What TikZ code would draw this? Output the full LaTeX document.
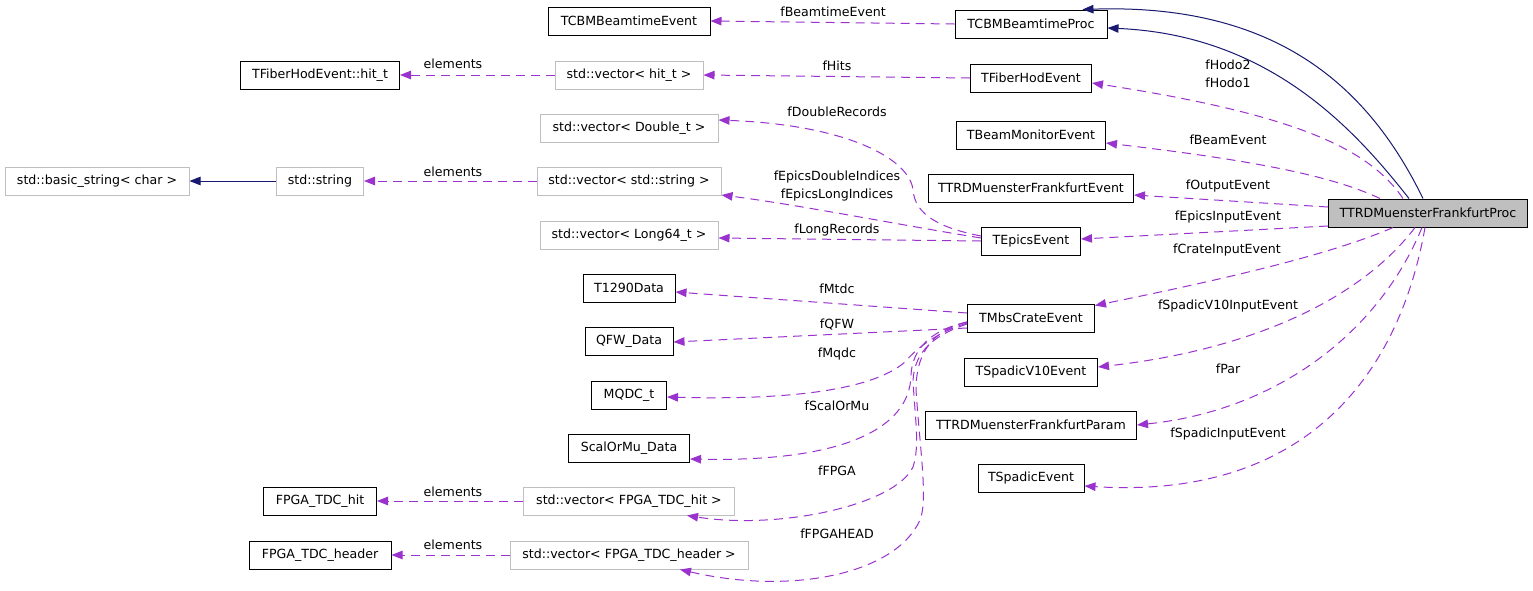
\documentclass[tikz,border=0pt]{standalone}
\usepackage{fontspec}
\setmainfont{DejaVu Sans}
\usetikzlibrary{arrows.meta}
\definecolor{edgep}{HTML}{9A32CD}
\definecolor{edgeb}{HTML}{191970}
\definecolor{greyb}{HTML}{BFBFBF}
\definecolor{fillmain}{HTML}{BFBFBF}
\begin{document}
\begin{tikzpicture}[x=1pt,y=-1pt,
 box/.style={draw=black, line width=1pt, minimum height=28pt, inner sep=0pt, font=\fontsize{12.6}{15}\selectfont, fill=white},
 gbox/.style={box, draw=greyb},
 lbl/.style={font=\fontsize{12.6}{15}\selectfont, inner sep=0pt, align=center},
 lbltwo/.style={font=\fontsize{12.6}{17.5}\selectfont, inner sep=0pt, align=center},
 usearrow/.style={draw=edgep, line width=1pt, dash pattern=on 9pt off 6pt, -{Triangle[length=11pt,width=8.5pt]}},
 inh/.style={draw=edgeb, line width=1pt, -{Triangle[length=11pt,width=8.5pt]}},
]
\useasboundingbox[fill=white] (0,0) rectangle (1533,590);

% nodes
\node[box, minimum width=162pt] (beamEv) at (629,21) {TCBMBeamtimeEvent};
\node[box, minimum width=152pt] (beamProc) at (1031,24) {TCBMBeamtimeProc};
\node[box, minimum width=159pt] (hitt) at (320,75) {TFiberHodEvent::hit\_t};
\node[gbox, minimum width=148pt] (vhit) at (629,75) {std::vector< hit\_t >};
\node[box, minimum width=121pt] (fiber) at (1031,78) {TFiberHodEvent};
\node[gbox, minimum width=178pt] (vdouble) at (629,128) {std::vector< Double\_t >};
\node[box, minimum width=149pt] (beammon) at (1031,135) {TBeamMonitorEvent};
\node[gbox, minimum width=184pt] (bstr) at (97,181) {std::basic\_string< char >};
\node[gbox, minimum width=87pt] (str) at (320,181) {std::string};
\node[gbox, minimum width=184pt] (vstr) at (629,181) {std::vector< std::string >};
\node[box, minimum width=205pt] (outev) at (1031,188) {TTRDMuensterFrankfurtEvent};
\node[box, minimum width=199pt, fill=fillmain] (proc) at (1428,213) {TTRDMuensterFrankfurtProc};
\node[box, minimum width=99pt] (epics) at (1031,241) {TEpicsEvent};
\node[gbox, minimum width=178pt] (vlong) at (629,235) {std::vector< Long64\_t >};
\node[box, minimum width=92pt] (t1290) at (629,288) {T1290Data};
\node[box, minimum width=88pt] (qfw) at (629,341) {QFW\_Data};
\node[box, minimum width=75pt] (mqdc) at (629,395) {MQDC\_t};
\node[box, minimum width=127pt] (mbs) at (1031,318) {TMbsCrateEvent};
\node[box, minimum width=133pt] (spv10) at (1031,372) {TSpadicV10Event};
\node[box, minimum width=211pt] (param) at (1031,425) {TTRDMuensterFrankfurtParam};
\node[box, minimum width=106pt] (spadic) at (1031,478) {TSpadicEvent};
\node[box, minimum width=121pt] (scal) at (629,448) {ScalOrMu\_Data};
\node[gbox, minimum width=211pt] (vfhit) at (629,501) {std::vector< FPGA\_TDC\_hit >};
\node[gbox, minimum width=238pt] (vfhead) at (629,555) {std::vector< FPGA\_TDC\_header >};
\node[box, minimum width=113pt] (fhit) at (320,501) {FPGA\_TDC\_hit};
\node[box, minimum width=142pt] (fhead) at (320,555) {FPGA\_TDC\_header};

% inheritance
\draw[inh] ([xshift=-5pt]proc.north) .. controls (1370,90) and (1280,3) .. ([xshift=-25pt]beamProc.north east);
\draw[inh] ([xshift=-19pt]proc.north) .. controls (1355,130) and (1270,35) .. ([yshift=-4pt]beamProc.east);
\draw[inh] (str.west) -- (bstr.east);

% usage from proc
\draw[usearrow] ([xshift=-25pt]proc.north) .. controls (1370,150) and (1300,115) .. ([yshift=-5pt]fiber.east);
\draw[usearrow] ([xshift=-48pt]proc.north) .. controls (1330,175) and (1250,160) .. ([yshift=-8pt]beammon.east);
\draw[usearrow] ([yshift=6pt]proc.west) -- ([yshift=-7pt]outev.east);
\draw[usearrow] ([yshift=-13pt]proc.west) -- ([yshift=2pt]epics.east);
\draw[usearrow] ([xshift=-35pt]proc.south) .. controls (1330,255) and (1220,280) .. ([yshift=-2pt]mbs.north east);
\draw[usearrow] ([xshift=-13pt]proc.south) .. controls (1360,300) and (1250,350) .. ([yshift=5pt]spv10.east);
\draw[usearrow] ([xshift=-6pt]proc.south) .. controls (1380,330) and (1280,410) .. (param.east);
\draw[usearrow] ([xshift=-3pt]proc.south) .. controls (1400,370) and (1310,500) .. ([yshift=-8pt]spadic.east);

% other usage
\draw[usearrow] (beamProc.west) -- (beamEv.east);
\draw[usearrow] (fiber.west) -- (vhit.east);
\draw[usearrow] (vhit.west) -- (hitt.east);
\draw[usearrow] (vstr.west) -- (str.east);
\draw[usearrow] ([yshift=5pt]epics.west) .. controls (940,228) and (915,215) .. (913,190) .. controls (910,160) and (850,125) .. ([yshift=8pt]vdouble.east);
\draw[usearrow] ([yshift=3pt]epics.west) .. controls (900,225) and (800,205) .. ([yshift=-14pt]vstr.east);
\draw[usearrow] (epics.west) -- ([yshift=-3pt]vlong.east);
\draw[usearrow] ([yshift=5pt]mbs.west) -- ([yshift=-4pt]t1290.east);
\draw[usearrow] ([yshift=-10pt]mbs.west) -- ([yshift=-1pt]qfw.east);
\draw[usearrow] ([yshift=-5pt]mbs.west) .. controls (935,333) and (915,350) .. (905,362) .. controls (870,392) and (780,400) .. ([yshift=-2pt]mqdc.east);
\draw[usearrow] ([yshift=-4pt]mbs.west) .. controls (930,330) and (912,350) .. (911,375) .. controls (910,430) and (840,462) .. ([yshift=-11pt]scal.east);
\draw[usearrow] ([yshift=-6pt]mbs.west) .. controls (935,335) and (915,350) .. (913,380) .. controls (915,420) and (920,445) .. (913,467) .. controls (895,505) and (780,530) .. ([xshift=58pt]vfhit.south);
\draw[usearrow] ([yshift=-4pt]mbs.west) .. controls (935,330) and (916,350) .. (916,390) .. controls (920,450) and (928,500) .. (920,520) .. controls (895,575) and (790,595) .. ([xshift=51pt]vfhead.south);
\draw[usearrow] (vfhit.west) -- (fhit.east);
\draw[usearrow] (vfhead.west) -- (fhead.east);

% labels
\node[lbl] (l1) at (833,12) {fBeamtimeEvent};
\node[lbl] (l2) at (453,64) {elements};
\node[lbl] (l3) at (837,66) {fHits};
\node[lbltwo] (l4) at (1228,74) {fHodo2\\fHodo1};
\node[lbl] (l5) at (837,112) {fDoubleRecords};
\node[lbl] (l6) at (1228,140) {fBeamEvent};
\node[lbl] (l7) at (453,172) {elements};
\node[lbltwo] (l8) at (837,186) {fEpicsDoubleIndices\\fEpicsLongIndices};
\node[lbl] (l9) at (1228,186) {fOutputEvent};
\node[lbl] (l10) at (1228,217) {fEpicsInputEvent};
\node[lbl] (l11) at (837,230) {fLongRecords};
\node[lbl] (l12) at (1227,250) {fCrateInputEvent};
\node[lbl] (l13) at (837,289) {fMtdc};
\node[lbl] (l14) at (1228,306) {fSpadicV10InputEvent};
\node[lbl] (l15) at (837,325) {fQFW};
\node[lbl] (l16) at (837,354) {fMqdc};
\node[lbl] (l17) at (1228,369) {fPar};
\node[lbl] (l18) at (837,406) {fScalOrMu};
\node[lbl] (l19) at (1228,434) {fSpadicInputEvent};
\node[lbl] (l20) at (837,471) {fFPGA};
\node[lbl] (l21) at (453,492) {elements};
\node[lbl] (l22) at (837,534) {fFPGAHEAD};
\node[lbl] (l23) at (453,545) {elements};
\end{tikzpicture}
\end{document}
